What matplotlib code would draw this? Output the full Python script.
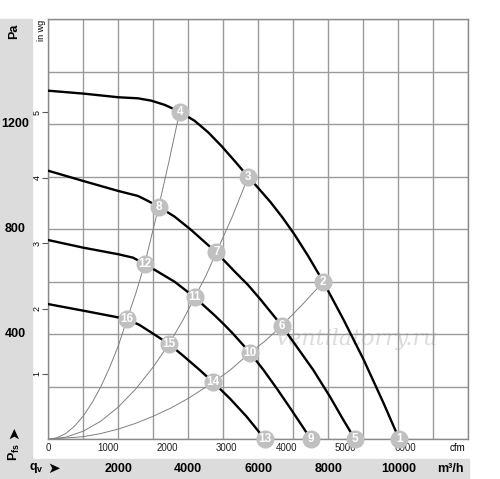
import numpy as np
import matplotlib.pyplot as plt
import matplotlib.transforms as mtransforms
from matplotlib.patches import Rectangle

plt.rcParams['font.family'] = ['Liberation Sans', 'DejaVu Sans']
plt.rcParams['mathtext.fontset'] = 'custom'
plt.rcParams['mathtext.rm'] = 'Liberation Sans'
plt.rcParams['mathtext.bf'] = 'Liberation Sans:bold'

# fan curves, flow in m3/h, static pressure in Pa
flow_a = [0, 1000, 2000, 2563, 2943, 3326, 3754, 4183, 4563, 4943, 5326, 5711, 6000, 6340,
          6680, 7030, 7430, 7857, 8430, 9000, 9571, 10029]
pa_a = [1328, 1317, 1303, 1299, 1290, 1274, 1248, 1213, 1170, 1118, 1060, 1000, 957, 905,
        847, 781, 697, 600, 457, 306, 140, 0]
flow_b = [0, 1000, 2000, 2563, 2849, 3154, 3611, 4086, 4800, 5326, 5706, 6049, 6669, 7097,
          7571, 8049, 8429, 8763]
pa_b = [1023, 984, 946, 927, 908, 886, 848, 797, 712, 639, 588, 535, 433, 353,
        264, 162, 74, 0]
flow_c = [0, 1000, 2000, 2420, 2754, 3134, 3611, 4183, 4754, 5040, 5286, 5763, 6143, 6526,
          6906, 7506]
pa_c = [759, 730, 705, 692, 668, 638, 600, 541, 472, 435, 401, 330, 265, 194,
        120, 0]
flow_d = [0, 1000, 1897, 2249, 2600, 2906, 3449, 3857, 4334, 4714, 5191, 5669, 6191]
pa_d = [515, 490, 467, 457, 436, 410, 363, 318, 263, 217, 155, 86, 0]

# system curves through the operating points
sys1_flow = [0, 250, 500, 750, 1000, 1250, 1500, 1750, 2000, 2249, 2500, 2754, 2950, 3154, 3450, 3754]
sys1_pa = [0, 6, 22, 50, 89, 139, 200, 273, 356, 457, 556, 668, 775, 886, 1060, 1248]
sys2_flow = [0, 500, 1000, 1500, 2000, 2500, 3000, 3449, 3850, 4183, 4500, 4800, 5250, 5711]
sys2_pa = [0, 8, 31, 69, 123, 192, 276, 363, 455, 541, 622, 712, 846, 1000]
sys3_flow = [0, 1000, 1500, 2000, 2500, 3000, 3500, 4000, 4714, 5200, 5763, 6200, 6669, 7250, 7857]
sys3_pa = [0, 10, 22, 39, 61, 88, 119, 156, 217, 264, 330, 375, 433, 512, 600]

# operating points
pt_labels = ['1', '2', '3', '4', '5', '6', '7', '8', '9', '10', '11', '12', '13', '14', '15', '16']
pt_flow = [10029, 7857, 5711, 3754, 8763, 6669, 4800, 3154, 7506, 5763, 4183, 2754, 6191, 4714, 3449, 2249]
pt_pa = [0, 600, 1000, 1248, 0, 433, 712, 886, 0, 330, 541, 668, 0, 217, 363, 457]

pa_ticks = [400, 800, 1200]
m3h_ticks = [2000, 4000, 6000, 8000, 10000]
cfm_ticks = [0, 1000, 2000, 3000, 4000, 5000, 6000]
inwg_ticks = [1, 2, 3, 4, 5]

W, H = 500, 479
fig = plt.figure(figsize=(W / 100, H / 100), dpi=100)

# gray frame around the labels
fig.patches.append(Rectangle((0, 0), 32 / W, (H - 19) / H, transform=fig.transFigure,
                             color='#dcdcdc', zorder=0))
fig.patches.append(Rectangle((0, 0), 469 / W, 20.5 / H, transform=fig.transFigure,
                             color='#dcdcdc', zorder=0))

ax = fig.add_axes([48.3 / W, 39.7 / H, 420 / W, 420 / H])
ax.set_xlim(0, 12000)
ax.set_ylim(0, 1600)
ax.set_xticks(np.arange(0, 12001, 1000))
ax.set_yticks(np.arange(0, 1601, 200))
ax.grid(True, color='#9a9a9a', lw=1.0)
ax.tick_params(length=0, labelbottom=False, labelleft=False)
for s in ax.spines.values():
    s.set_color('#8a8a8a')
    s.set_linewidth(1.0)

ax.text(0.735, 0.24, 'Ventilatorry.ru', transform=ax.transAxes, fontsize=16,
        style='italic', color='#dcdcdc', ha='center', va='center', zorder=1.5,
        family='DejaVu Serif')

for fx, py in [(sys1_flow, sys1_pa), (sys2_flow, sys2_pa), (sys3_flow, sys3_pa)]:
    ax.plot(fx, py, color='#808080', lw=0.7, zorder=2)

for fx, py in [(flow_a, pa_a), (flow_b, pa_b), (flow_c, pa_c), (flow_d, pa_d)]:
    ax.plot(fx, py, color='black', lw=1.7, zorder=3, solid_joinstyle='round')

ax.plot(pt_flow, pt_pa, 'o', ms=13, color='#c0c0c0', mec='none', zorder=4, clip_on=False)
for lab, fx, py in zip(pt_labels, pt_flow, pt_pa):
    ax.text(fx, py, lab, color='white', fontsize=8.5, fontweight='bold',
            ha='center', va='center', zorder=5, clip_on=False)

# in wg scale on the left
sec_y = ax.secondary_yaxis('left', functions=(lambda p: p / 249.09, lambda w: w * 249.09))
sec_y.set_yticks(inwg_ticks)
sec_y.tick_params(length=4, width=0.8, color='#555555', labelsize=6.5, pad=1, labelrotation=90)
for t in sec_y.get_yticklabels():
    t.set_va('center')
sec_y.spines['left'].set_visible(False)

# cfm scale under the plot
sec_x = ax.secondary_xaxis('bottom', functions=(lambda q: q / 1.699, lambda c: c * 1.699))
sec_x.set_xticks(cfm_ticks)
sec_x.tick_params(length=0, labelsize=7, pad=3, colors='#222222')
sec_x.spines['bottom'].set_visible(False)
fig.text(457 / W, 1 - 448 / H, 'cfm', fontsize=7, ha='center', va='center')

# Pa labels in the side band
ty = mtransforms.blended_transform_factory(fig.transFigure, ax.transData)
for p in pa_ticks:
    fig.text(15 / W, p, str(p), transform=ty, fontsize=9, fontweight='bold',
             ha='center', va='center')

# m3/h labels in the bottom band
tx = mtransforms.blended_transform_factory(ax.transData, fig.transFigure)
for q in m3h_ticks:
    fig.text(q, 1 - 468.5 / H, str(q), transform=tx, fontsize=9, fontweight='bold',
             ha='center', va='center')
fig.text(450 / W, 1 - 468.5 / H, 'm³/h', fontsize=9, fontweight='bold', ha='center', va='center')

fig.text(14 / W, 1 - 31 / H, 'Pa', fontsize=9, fontweight='bold', rotation=90,
         ha='center', va='center')
fig.text(41 / W, 1 - 30 / H, 'in wg', fontsize=6.5, rotation=90, ha='center', va='center')

# axis quantity symbols with arrowheads
fig.text(14 / W, 1 - 452 / H, r'$\mathbf{P_{fs}}$', fontsize=9, rotation=90,
         ha='center', va='center')
fig.text(14 / W, 1 - 433 / H, '➤', fontsize=11, rotation=90, ha='center', va='center',
         family='DejaVu Sans')
fig.text(36 / W, 1 - 468 / H, r'$\mathbf{q_{v}}$', fontsize=9, ha='center', va='center')
fig.text(54 / W, 1 - 468 / H, '➤', fontsize=11, ha='center', va='center',
         family='DejaVu Sans')

fig.savefig('out.png', dpi=100)
